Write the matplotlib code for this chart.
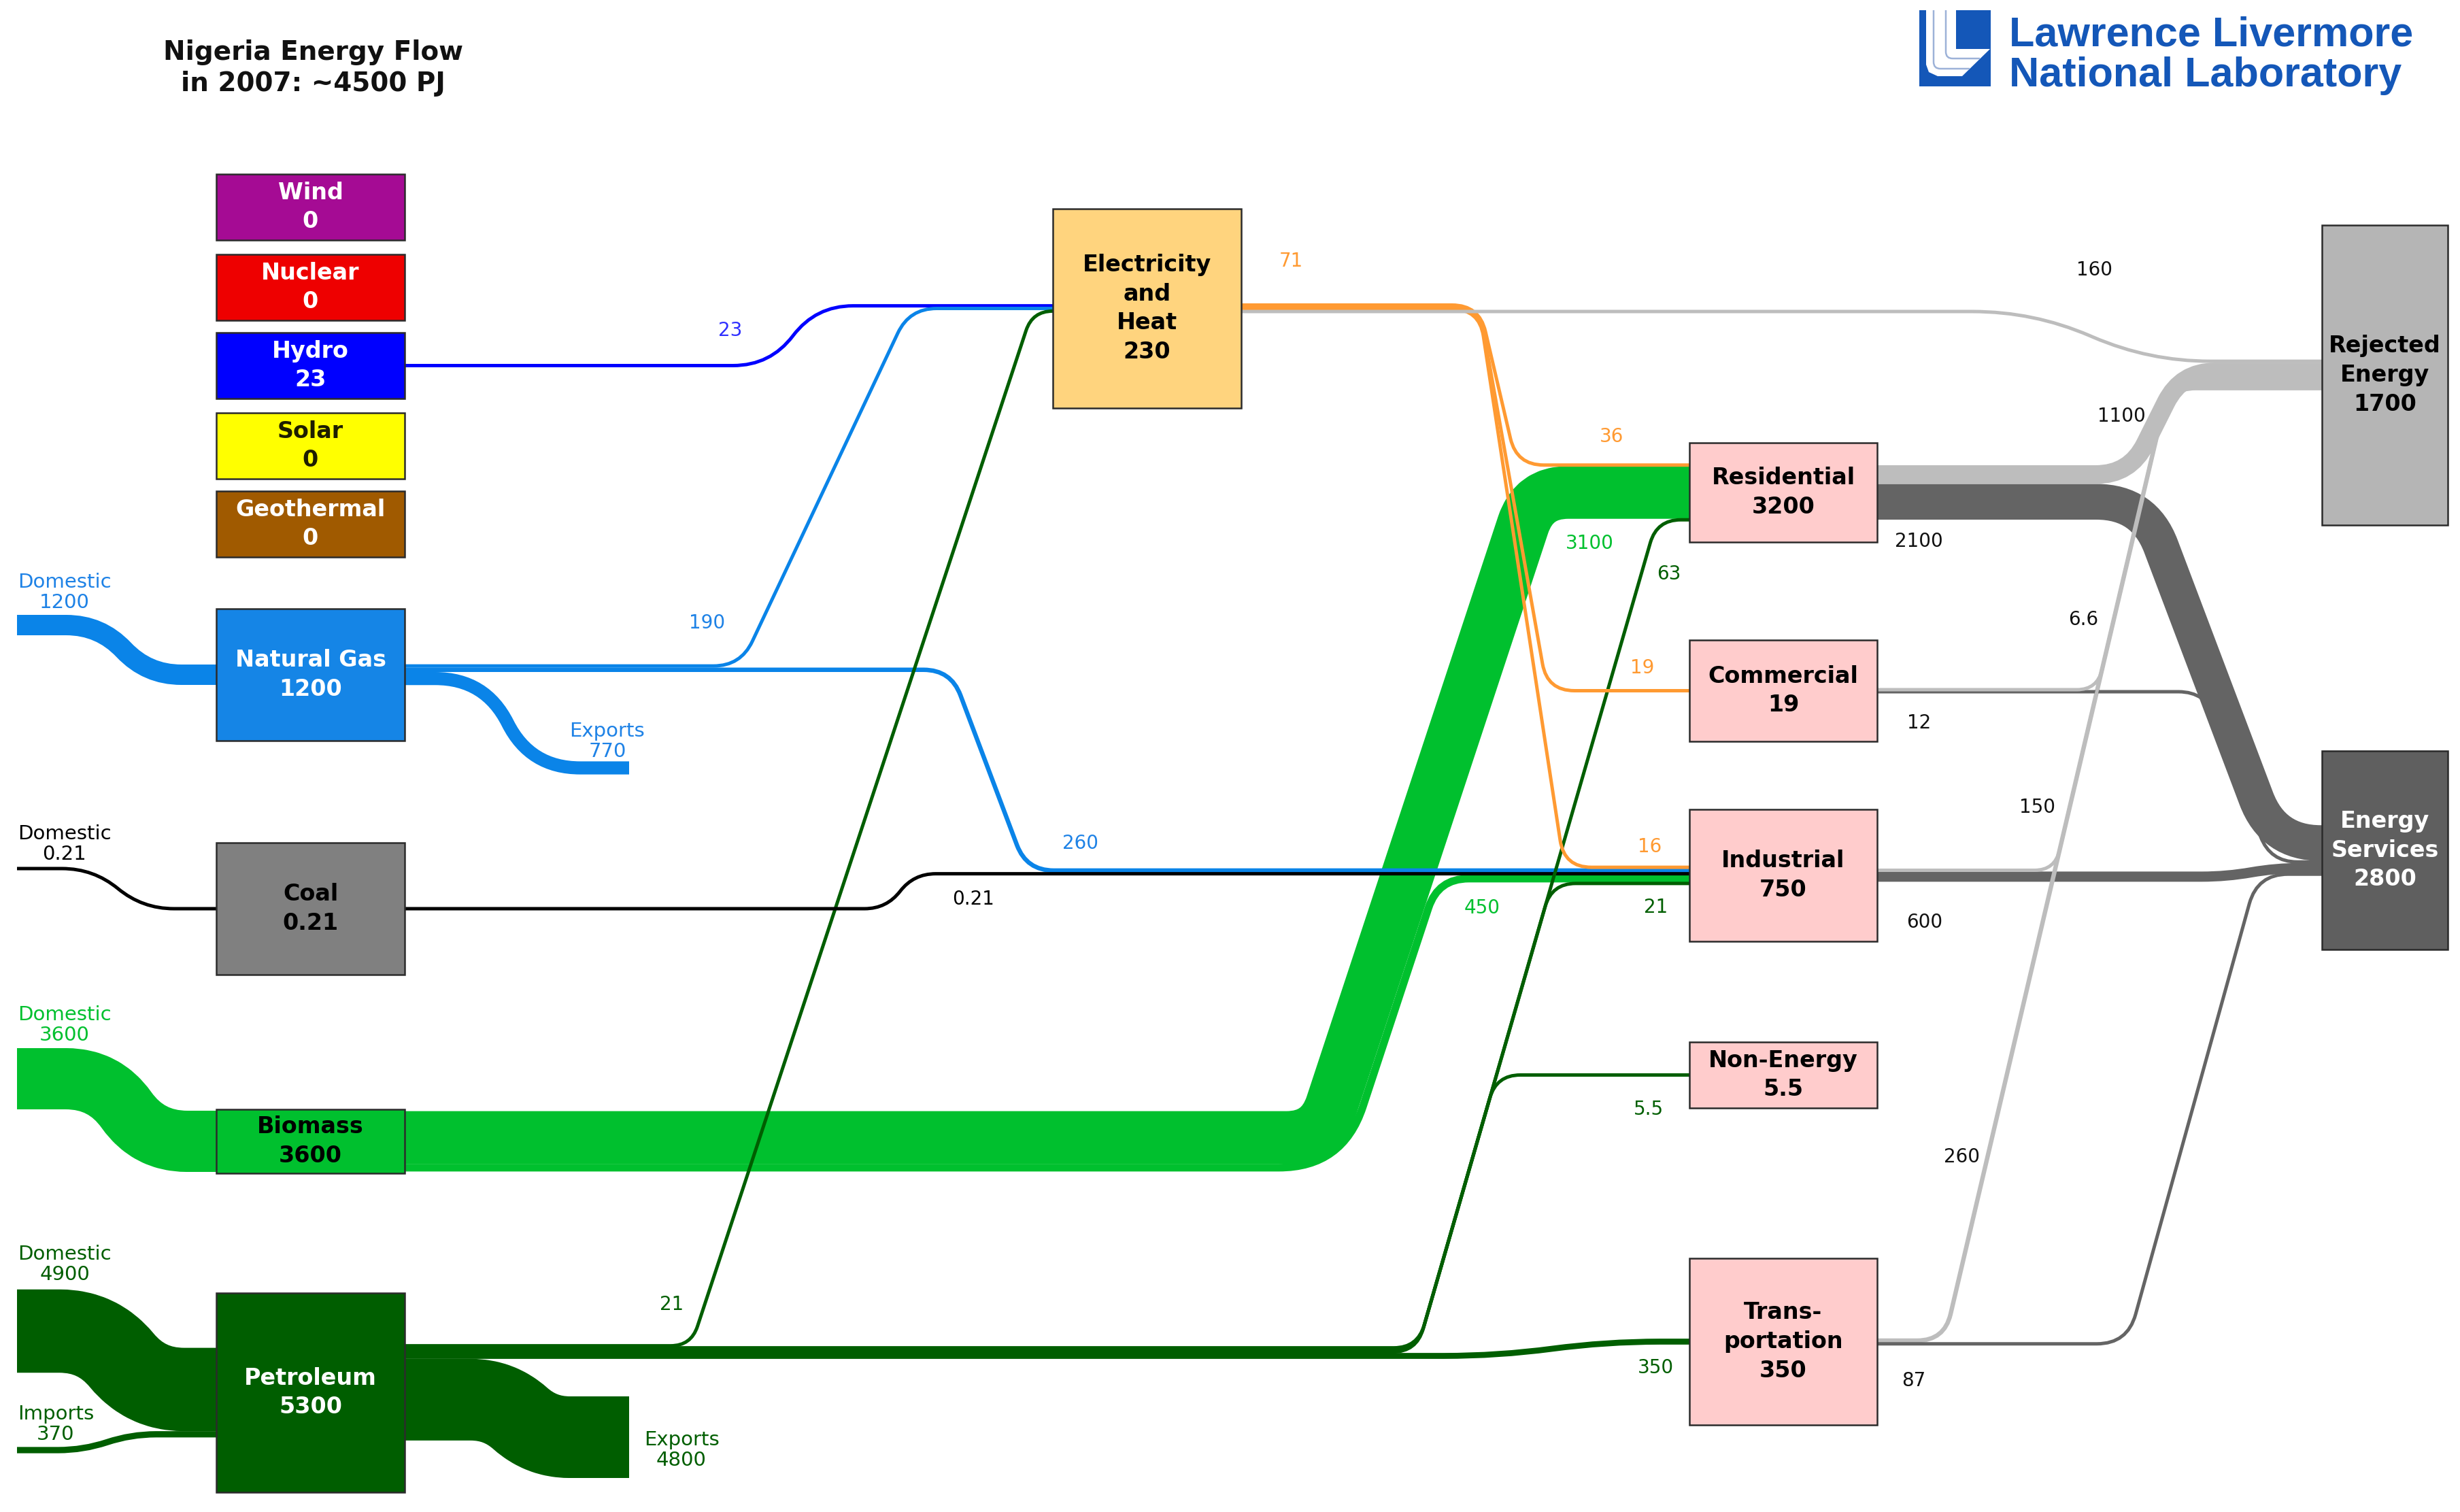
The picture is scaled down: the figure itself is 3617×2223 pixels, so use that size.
import numpy as np
import matplotlib
matplotlib.use("Agg")
import matplotlib.pyplot as plt
from matplotlib.path import Path
from matplotlib.patches import PathPatch, Rectangle, Polygon
from matplotlib import font_manager

# ---------------- data (PJ) ----------------
title = "Nigeria Energy Flow\nin 2007: ~4500 PJ"

node_names = ["Wind", "Nuclear", "Hydro", "Solar", "Geothermal", "Natural Gas",
              "Coal", "Biomass", "Petroleum", "Electricity", "Residential",
              "Commercial", "Industrial", "Non-Energy", "Transportation",
              "Rejected", "Services"]
node_labels = ["Wind", "Nuclear", "Hydro", "Solar", "Geothermal", "Natural Gas",
               "Coal", "Biomass", "Petroleum", "Electricity\nand\nHeat",
               "Residential", "Commercial", "Industrial", "Non-Energy",
               "Trans-\nportation", "Rejected\nEnergy", "Energy\nServices"]
node_values = [0, 0, 23, 0, 0, 1200, 0.21, 3600, 5300, 230, 3200, 19, 750,
               5.5, 350, 1700, 2800]

# terminals: supply / trade ends without a box
terminal_names = ["GasDomestic", "CoalDomestic", "BioDomestic", "OilDomestic",
                  "OilImports", "GasExports", "OilExports"]
terminal_words = ["Domestic", "Domestic", "Domestic", "Domestic",
                  "Imports", "Exports", "Exports"]

flow_src = ["GasDomestic", "CoalDomestic", "BioDomestic", "OilDomestic", "OilImports",
            "Natural Gas", "Petroleum",
            "Hydro", "Natural Gas", "Petroleum",
            "Natural Gas", "Coal", "Biomass", "Biomass",
            "Petroleum", "Petroleum", "Petroleum", "Petroleum",
            "Electricity", "Electricity", "Electricity", "Electricity",
            "Residential", "Residential", "Commercial", "Commercial",
            "Industrial", "Industrial", "Transportation", "Transportation"]
flow_dst = ["Natural Gas", "Coal", "Biomass", "Petroleum", "Petroleum",
            "GasExports", "OilExports",
            "Electricity", "Electricity", "Electricity",
            "Industrial", "Industrial", "Residential", "Industrial",
            "Residential", "Industrial", "Non-Energy", "Transportation",
            "Residential", "Commercial", "Industrial", "Rejected",
            "Rejected", "Services", "Rejected", "Services",
            "Rejected", "Services", "Rejected", "Services"]
flow_values = [1200, 0.21, 3600, 4900, 370,
               770, 4800,
               23, 190, 21,
               260, 0.21, 3100, 450,
               63, 21, 5.5, 350,
               36, 19, 16, 160,
               1100, 2100, 6.6, 12,
               150, 600, 260, 87]

# ---------------- layout (pixels of the 3617x2223 canvas) ----------------
W_PX, H_PX, DPI = 3617, 2223, 100
PT = 72.0 / DPI
S = 0.025          # px per PJ
W_MIN = 5.0        # thinnest drawn line
STACK_MIN = 3.0    # thinnest slot when stacking

BOX = {
    "Wind": (318, 256, 595, 353),
    "Nuclear": (318, 374, 595, 471),
    "Hydro": (318, 489, 595, 586),
    "Solar": (318, 607, 595, 704),
    "Geothermal": (318, 722, 595, 819),
    "Natural Gas": (318, 895, 595, 1089),
    "Coal": (318, 1239, 595, 1433),
    "Biomass": (318, 1631, 595, 1725),
    "Petroleum": (318, 1901, 595, 2194),
    "Electricity": (1548, 307, 1825, 600),
    "Residential": (2484, 651, 2760, 797),
    "Commercial": (2484, 941, 2760, 1090),
    "Industrial": (2484, 1190, 2760, 1384),
    "Non-Energy": (2484, 1532, 2760, 1629),
    "Transportation": (2484, 1850, 2760, 2095),
    "Rejected": (3414, 331, 3599, 772),
    "Services": (3414, 1104, 3599, 1396),
}
TERMINAL = {
    "GasDomestic": (25, 919), "CoalDomestic": (25, 1277), "BioDomestic": (25, 1586),
    "OilDomestic": (25, 1957), "OilImports": (25, 2132),
    "GasExports": (925, 1129), "OilExports": (925, 2113),
}

OUT_ORDER = {
    "Hydro": ["Electricity"],
    "Natural Gas": ["Electricity", "Industrial", "GasExports"],
    "Coal": ["Industrial"],
    "Biomass": ["Residential", "Industrial"],
    "Petroleum": ["Electricity", "Residential", "Industrial", "Non-Energy",
                  "Transportation", "OilExports"],
    "Electricity": ["Residential", "Commercial", "Industrial", "Rejected"],
    "Residential": ["Rejected", "Services"],
    "Commercial": ["Rejected", "Services"],
    "Industrial": ["Rejected", "Services"],
    "Transportation": ["Rejected", "Services"],
}
IN_ORDER = {
    "Natural Gas": ["GasDomestic"],
    "Coal": ["CoalDomestic"],
    "Biomass": ["BioDomestic"],
    "Petroleum": ["OilDomestic", "OilImports"],
    "Electricity": ["Hydro", "Natural Gas", "Petroleum"],
    "Residential": ["Electricity", "Biomass", "Petroleum"],
    "Commercial": ["Electricity"],
    "Industrial": ["Electricity", "Natural Gas", "Coal", "Biomass", "Petroleum"],
    "Non-Energy": ["Petroleum"],
    "Transportation": ["Petroleum"],
    "Rejected": ["Electricity", "Residential", "Commercial", "Industrial", "Transportation"],
    "Services": ["Residential", "Commercial", "Industrial", "Transportation"],
}

# diagonal lanes: point (x, y) and dx/dy
LANES = {
    "ng_elec": (1108, 939, -0.472),
    "oil_elec": (1207, 1400, -0.33),
    "ng_ind": (1414, 1027, 0.377),
    "bio": (1982.6, 1550, -0.33),
    "oil_up": (2084, 1983, -0.289),
    "res_rej": (3140, 681, -0.5),
    "res_es": (3181, 813, 0.378),
    "rej": (3040, 1200, -0.235),
    "trans_es": (3144, 1918, -0.277),
}
# ("bend", xa, xb) | ("fixed", c1, c2, r) | ("lane", lane, r[, beside, side])
ROUTE = {
    ("GasDomestic", "Natural Gas"): ("bend", 96, 268),
    ("CoalDomestic", "Coal"): ("bend", 84, 263),
    ("BioDomestic", "Biomass"): ("bend", 105, 267),
    ("OilDomestic", "Petroleum"): ("bend", 91, 267),
    ("OilImports", "Petroleum"): ("bend", 70, 245),
    ("Natural Gas", "GasExports"): ("bend", 664, 829),
    ("Petroleum", "OilExports"): ("bend", 688, 842),
    ("Hydro", "Electricity"): ("bend", 1083, 1249),
    ("Natural Gas", "Electricity"): ("lane", "ng_elec", 40),
    ("Petroleum", "Electricity"): ("lane", "oil_elec", 30),
    ("Natural Gas", "Industrial"): ("lane", "ng_ind", 40),
    ("Coal", "Industrial"): ("bend", 1274, 1373),
    ("Biomass", "Residential"): ("lane", "bio", (50, 50)),
    ("Biomass", "Industrial"): ("lane", "bio", (94, 45), ("Biomass", "Residential"), 1),
    ("Petroleum", "Residential"): ("lane", "oil_up", 35),
    ("Petroleum", "Industrial"): ("lane", "oil_up", 35),
    ("Petroleum", "Non-Energy"): ("lane", "oil_up", 35),
    ("Petroleum", "Transportation"): ("bend", 2084, 2480),
    ("Electricity", "Residential"): ("fixed", 2175, 2230, 40),
    ("Electricity", "Commercial"): ("fixed", 2175, 2275, 40),
    ("Electricity", "Industrial"): ("fixed", 2175, 2300, 40),
    ("Electricity", "Rejected"): ("fixed", 2990, 3160, 90),
    ("Residential", "Rejected"): ("lane", "res_rej", 50),
    ("Residential", "Services"): ("lane", "res_es", 70),
    ("Commercial", "Rejected"): ("lane", "rej", 30),
    ("Commercial", "Services"): ("lane", "res_es", 40, ("Residential", "Services"), -0.5),
    ("Industrial", "Rejected"): ("lane", "rej", 30),
    ("Industrial", "Services"): ("bend", 3220, 3400),
    ("Transportation", "Rejected"): ("lane", "rej", 40),
    ("Transportation", "Services"): ("lane", "trans_es", 45),
}
LABEL_POS = {
    ("GasDomestic", "Natural Gas"): (95, 871),
    ("Natural Gas", "GasExports"): (893, 1090),
    ("CoalDomestic", "Coal"): (95, 1241),
    ("BioDomestic", "Biomass"): (95, 1507),
    ("OilDomestic", "Petroleum"): (95, 1859),
    ("OilImports", "Petroleum"): (82, 2094),
    ("Petroleum", "OilExports"): (1002, 2132),
    ("Hydro", "Electricity"): (1074, 486),
    ("Natural Gas", "Electricity"): (1040, 916),
    ("Petroleum", "Electricity"): (988, 1918),
    ("Natural Gas", "Industrial"): (1589, 1240),
    ("Coal", "Industrial"): (1431, 1322),
    ("Biomass", "Residential"): (2337, 799),
    ("Biomass", "Industrial"): (2179, 1335),
    ("Petroleum", "Residential"): (2454, 844),
    ("Petroleum", "Industrial"): (2435, 1334),
    ("Petroleum", "Non-Energy"): (2424, 1631),
    ("Petroleum", "Transportation"): (2434, 2011),
    ("Electricity", "Residential"): (2370, 642),
    ("Electricity", "Commercial"): (2415, 982),
    ("Electricity", "Industrial"): (2426, 1245),
    ("Electricity", "Rejected"): (3080, 397),
    ("Residential", "Rejected"): (3119, 612),
    ("Residential", "Services"): (2821, 796),
    ("Commercial", "Rejected"): (3063, 911),
    ("Commercial", "Services"): (2822, 1063),
    ("Industrial", "Rejected"): (2995, 1187),
    ("Industrial", "Services"): (2830, 1356),
    ("Transportation", "Rejected"): (2884, 1701),
    ("Transportation", "Services"): (2814, 2030),
}
ELEC_TOTAL_POS = (1898, 384)

BOX_COLOR = {
    "Wind": "#A50B94", "Nuclear": "#EE0000", "Hydro": "#0000FF", "Solar": "#FFFF00",
    "Geothermal": "#A05A00", "Natural Gas": "#1585E6", "Coal": "#808080",
    "Biomass": "#00C02E", "Petroleum": "#005E00", "Electricity": "#FFD47E",
    "Residential": "#FFCCCC", "Commercial": "#FFCCCC", "Industrial": "#FFCCCC",
    "Non-Energy": "#FFCCCC", "Transportation": "#FFCCCC",
    "Rejected": "#B5B5B5", "Services": "#5F5F5F",
}
WHITE_TEXT = {"Wind", "Nuclear", "Hydro", "Geothermal", "Natural Gas", "Petroleum", "Services"}
FLOW_COLOR = {
    "Hydro": "#0000FF", "Natural Gas": "#0A84E8", "Coal": "#000000",
    "Biomass": "#00C02E", "Petroleum": "#005E00", "Electricity": "#FF9A32",
    "Rejected": "#BDBDBD", "Services": "#646464",
}
LABEL_COLOR = {
    "Hydro": "#3030FF", "Natural Gas": "#1E82E6", "Coal": "#000000",
    "Biomass": "#00C02E", "Petroleum": "#005E00", "Electricity": "#FF9A32",
    "Rejected": "#111111", "Services": "#111111",
}
LOGO_BLUE = "#1457B8"


def pick_font(cands):
    for c in cands:
        try:
            font_manager.findfont(font_manager.FontProperties(family=c),
                                  fallback_to_default=False)
            return c
        except ValueError:
            pass
    return None


COND = pick_font(["DejaVu Sans Condensed", "Liberation Sans Narrow"])
if COND == "DejaVu Sans Condensed":
    COND_BOX, COND_NUM = 26, 23
elif COND == "Liberation Sans Narrow":
    COND_BOX, COND_NUM = 30, 26
else:
    COND, COND_BOX, COND_NUM = "DejaVu Sans", 24, 20
REG = "DejaVu Sans"
LOGO_FONT = pick_font(["Liberation Sans", "Arimo"]) or REG


def fmt(v):
    return str(int(v)) if float(v).is_integer() else str(v)


def sw(v):
    return max(STACK_MIN, S * v)


def dw(v):
    return max(W_MIN, S * v)


value = {(s, d): v for s, d, v in zip(flow_src, flow_dst, flow_values)}
terminal_word = dict(zip(terminal_names, terminal_words))

# stacking positions on box sides
y_out, y_in = {}, {}
for node, partners in OUT_ORDER.items():
    x0, y0, x1, y1 = BOX[node]
    tot = sum(sw(value[(node, p)]) for p in partners)
    y = (y0 + y1) / 2 - tot / 2
    for p in partners:
        w = sw(value[(node, p)])
        y_out[(node, p)] = y + w / 2
        y += w
for node, partners in IN_ORDER.items():
    x0, y0, x1, y1 = BOX[node]
    tot = sum(sw(value[(p, node)]) for p in partners)
    y = (y0 + y1) / 2 - tot / 2
    for p in partners:
        w = sw(value[(p, node)])
        y_in[(p, node)] = y + w / 2
        y += w
for key in value:
    if key[0] in TERMINAL:
        y_out[key] = TERMINAL[key[0]][1]
    if key[1] in TERMINAL:
        y_in[key] = TERMINAL[key[1]][1]


def edge_x(name, side):
    if name in TERMINAL:
        return TERMINAL[name][0]
    b = BOX[name]
    return b[2] - 2 if side == "out" else b[0] + 2


def corners(key, ya, yb):
    spec = ROUTE[key]
    if spec[0] == "bend":
        xa, xb = spec[1], spec[2]
        return xa + 0.3 * (xb - xa), xb - 0.3 * (xb - xa), 1e4
    if spec[0] == "fixed":
        return spec[1], spec[2], spec[3]
    lx, ly, k = LANES[spec[1]]
    shift = 0.0
    if len(spec) > 3:
        other, side = spec[3], spec[4]
        shift = side * (sw(value[other]) + sw(value[key])) / 2 * np.hypot(1, k)
    return lx + shift + k * (ya - ly), lx + shift + k * (yb - ly), spec[2]


def rounded(pts, r):
    pts = [np.asarray(p, float) for p in pts]
    n = len(pts)
    radii = list(r) if isinstance(r, (tuple, list)) else [r] * (n - 2)
    verts, codes = [pts[0]], [Path.MOVETO]
    for i in range(1, n - 1):
        p0, p, p1 = pts[i - 1], pts[i], pts[i + 1]
        a, b = p - p0, p1 - p
        la, lb = np.hypot(*a), np.hypot(*b)
        if la < 1e-6 or lb < 1e-6:
            continue
        rr = min(radii[i - 1], la if i == 1 else la / 2, lb if i == n - 2 else lb / 2)
        verts += [p - a / la * rr, p, p + b / lb * rr]
        codes += [Path.LINETO, Path.CURVE3, Path.CURVE3]
    verts.append(pts[-1])
    codes.append(Path.LINETO)
    return Path(verts, codes)


def carrier(key):
    s, d = key
    if d in ("Rejected", "Services"):
        return d
    if s in TERMINAL:
        return d
    return s


fig = plt.figure(figsize=(W_PX / DPI, H_PX / DPI), dpi=DPI)
ax = fig.add_axes([0, 0, 1, 1])
ax.set_xlim(0, W_PX)
ax.set_ylim(H_PX, 0)
ax.axis("off")

# flows, thick ones first
order = sorted(value, key=lambda kk: -dw(value[kk]) + (0.1 if kk[1] == "Rejected" else 0))
for z, key in enumerate(order):
    v = value[key]
    ya, yb = y_out[key], y_in[key]
    xa, xb = edge_x(key[0], "out"), edge_x(key[1], "in")
    c1, c2, r = corners(key, ya, yb)
    path = rounded([(xa, ya), (c1, ya), (c2, yb), (xb, yb)], r)
    ax.add_patch(PathPatch(path, fill=False, edgecolor=FLOW_COLOR[carrier(key)],
                           lw=dw(v) * PT, capstyle="butt", joinstyle="round",
                           zorder=2 + z * 0.01))

# boxes
for name, lab, v in zip(node_names, node_labels, node_values):
    x0, y0, x1, y1 = BOX[name]
    ax.add_patch(Rectangle((x0, y0), x1 - x0, y1 - y0, facecolor=BOX_COLOR[name],
                           edgecolor="#2B2B2B", lw=1.8, zorder=5))
    if name == "Solar":
        tc = "#1E1E00"
    elif name in WHITE_TEXT:
        tc = "white"
    else:
        tc = "black"
    left = x1 < 1000
    ax.text((x0 + x1) / 2, (y0 + y1) / 2, lab + "\n" + fmt(v), ha="center", va="center",
            color=tc, fontsize=24 if left else COND_BOX, fontweight="bold",
            family=REG if left else COND, linespacing=1.36 if left else 1.38, zorder=6)

# flow labels
for key, (lx, ly) in LABEL_POS.items():
    txt = fmt(value[key])
    if key[0] in TERMINAL:
        txt = terminal_word[key[0]] + "\n" + txt
    elif key[1] in TERMINAL:
        txt = terminal_word[key[1]] + "\n" + txt
    cond = lx > 2150
    ax.text(lx, ly, txt, ha="center", va="center", color=LABEL_COLOR[carrier(key)],
            fontsize=COND_NUM if cond else (21 if "\n" in txt else 20),
            family=COND if cond else REG, linespacing=1.1, zorder=7)

elec_total = sum(v for (s, d), v in value.items()
                 if s == "Electricity" and d != "Rejected")
ax.text(*ELEC_TOTAL_POS, fmt(elec_total), ha="center", va="center",
        color=LABEL_COLOR["Electricity"], fontsize=20, family=REG, zorder=7)

# title
ax.text(460, 100, title, ha="center", va="center", fontsize=28, fontweight="bold",
        family=REG, linespacing=1.25, color="#111111")

# LLNL logo
ax.add_patch(Rectangle((2822, 15), 105, 112, facecolor=LOGO_BLUE, edgecolor="none", zorder=8))
ax.add_patch(Polygon([(2832, 15), (2832, 95), (2836, 106), (2849, 112), (2885, 112),
                      (2926, 72), (2876, 72), (2876, 15)], closed=True,
                     facecolor="white", edgecolor="none", zorder=9))
for xv, yh, xe in [(2843, 101, 2896), (2861, 86, 2911)]:
    ax.add_patch(PathPatch(rounded([(xv, 15), (xv, yh), (xe, yh)], 10), fill=False,
                           edgecolor="#9DB2D8", lw=2.5 * PT, capstyle="butt", zorder=10))
ax.text(2954, 68, "Lawrence Livermore", ha="left", va="baseline", color=LOGO_BLUE,
        fontsize=44, fontweight="bold", family=LOGO_FONT)
ax.text(2954, 127, "National Laboratory", ha="left", va="baseline", color=LOGO_BLUE,
        fontsize=44, fontweight="bold", family=LOGO_FONT)

fig.savefig("out.png", dpi=DPI, facecolor="white")
